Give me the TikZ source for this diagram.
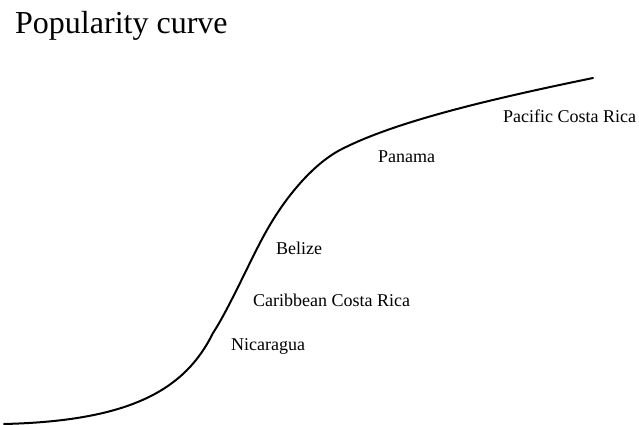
\documentclass[tikz,border=0pt]{standalone}
\usepackage{fontspec}
\setmainfont{Liberation Serif}
\begin{document}
\begin{tikzpicture}[x=1pt,y=-1pt,
  lbl/.style={anchor=base west,inner sep=0pt,font=\fontsize{18}{20}\selectfont},
  ttl/.style={anchor=base west,inner sep=0pt,font=\fontsize{32}{36}\selectfont},
  curve/.style={line width=2pt,line cap=round}]
\useasboundingbox (0,0) rectangle (639,425);
\node[ttl] (title) at (15,34) {Popularity curve};
\coordinate (a) at (4,424);
\coordinate (b) at (213,333);
\coordinate (c) at (267,230);
\coordinate (d) at (340,150);
\coordinate (e) at (593,78);
\draw[curve] (a) .. controls (130,421) and (185,390) .. (b)
  .. controls (230,307) and (252,256) .. (c)
  .. controls (285,198) and (312,165) .. (d)
  .. controls (392,123) and (481,101) .. (e);
\node[lbl] (pcr) at (503,122) {Pacific Costa Rica};
\node[lbl] (pan) at (378,162) {Panama};
\node[lbl] (bel) at (276,254) {Belize};
\node[lbl] (ccr) at (253,306) {Caribbean Costa Rica};
\node[lbl] (nic) at (231,350) {Nicaragua};
\end{tikzpicture}
\end{document}
